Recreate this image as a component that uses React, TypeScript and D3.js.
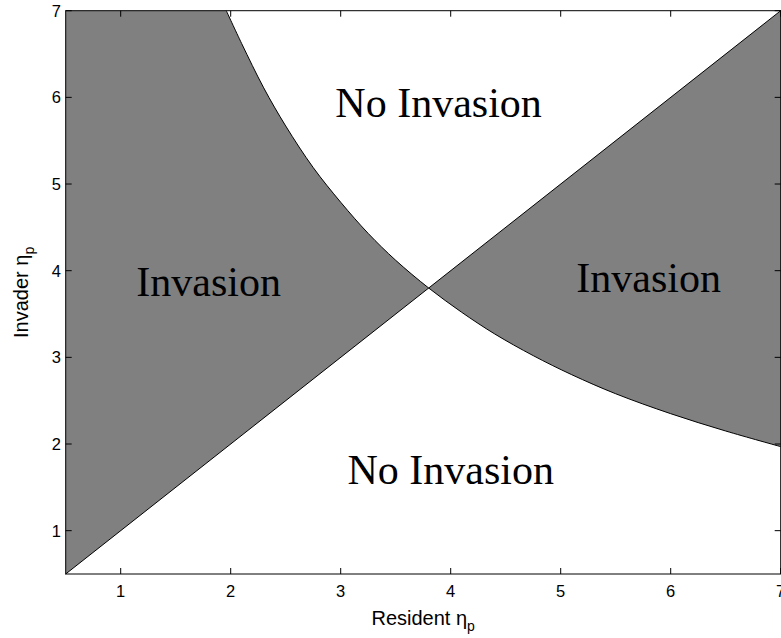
import React from "react";
import * as d3 from "d3";

// Axis ranges and tick values
const xDomain = [0.5, 7];
const yDomain = [0.5, 7];
const xTicks = [1, 2, 3, 4, 5, 6, 7];
const yTicks = [1, 2, 3, 4, 5, 6, 7];

// Invasion boundary (non-trivial branch), resident η_p vs invader η_p
const boundaryX = [1.96, 2.1, 2.3, 2.5, 2.75, 3.0, 3.25, 3.5, 3.8, 4.1, 4.4, 4.75, 5.1, 5.5, 6.0, 6.5, 7.0];
const boundaryY = [7.0, 6.62, 6.11, 5.67, 5.19, 4.79, 4.43, 4.12, 3.8, 3.52, 3.27, 3.02, 2.8, 2.58, 2.35, 2.15, 1.97];

// Crossing point of the boundary with the diagonal (invader = resident)
const crossing = 3.8;

// Region labels: [text, x, y] in data units (text baseline center)
const regionLabels: [string, number, number][] = [
  ["No Invasion", 3.89, 5.77],
  ["Invasion", 1.8, 3.71],
  ["Invasion", 5.8, 3.75],
  ["No Invasion", 4.0, 1.54],
];

const W = 781;
const H = 638;
const left = 65.7;
const right = 780.7;
const top = 10.7;
const bottom = 574;

export default function App() {
  const x = d3.scaleLinear().domain(xDomain).range([left, right]);
  const y = d3.scaleLinear().domain(yDomain).range([bottom, top]);

  const pts: [number, number][] = boundaryX.map((v, i) => [v, boundaryY[i]]);
  const upper = pts.filter((p) => p[0] <= crossing);
  const lower = pts.filter((p) => p[0] >= crossing);

  const line = d3
    .line<[number, number]>()
    .x((d) => x(d[0]))
    .y((d) => y(d[1]))
    .curve(d3.curveCatmullRom.alpha(0.5));

  // Left invasion region: y-axis side, top edge, boundary down to the crossing, diagonal back
  const leftD =
    `M${x(xDomain[0])},${y(yDomain[0])}L${x(xDomain[0])},${y(yDomain[1])}` +
    line(upper)!.replace(/^M/, "L") +
    `L${x(xDomain[0])},${y(yDomain[0])}Z`;

  // Right invasion region: diagonal up to the corner, right edge down, boundary back to the crossing
  const rightD =
    `M${x(crossing)},${y(crossing)}L${x(xDomain[1])},${y(yDomain[1])}` +
    `L${x(xDomain[1])},${y(lower[lower.length - 1][1])}` +
    line([...lower].reverse())!.replace(/^M/, "L") +
    "Z";

  const diag = d3.line<number>().x((d) => x(d)).y((d) => y(d))([xDomain[0], xDomain[1]])!;

  const tickLen = 6;
  const sans = "Liberation Sans, Arial, Helvetica, sans-serif";
  const serif = "Liberation Serif, Times New Roman, serif";

  return (
    <svg
      width={W}
      height={H}
      style={{ position: "absolute", left: 0, top: 0, background: "#fff" }}
    >
      <rect x={0} y={0} width={W} height={H} fill="#fff" />
      <path d={leftD} fill="#808080" stroke="none" />
      <path d={rightD} fill="#808080" stroke="none" />
      <path d={line(pts)!} fill="none" stroke="#000" strokeWidth={1} />
      <path d={diag} fill="none" stroke="#000" strokeWidth={1} />

      {regionLabels.map(([t, lx, ly], i) => (
        <text
          key={i}
          x={x(lx)}
          y={y(ly)}
          textAnchor="middle"
          fontFamily={serif}
          fontSize={42}
          fill="#000"
        >
          {t}
        </text>
      ))}

      {/* frame */}
      <rect
        x={left}
        y={top}
        width={right - left}
        height={bottom - top}
        fill="none"
        stroke="#000"
        strokeWidth={1}
      />

      {/* x ticks, inward on bottom and top */}
      {xTicks.map((t) => (
        <g key={"x" + t}>
          <line x1={x(t)} x2={x(t)} y1={bottom} y2={bottom - tickLen} stroke="#000" />
          <line x1={x(t)} x2={x(t)} y1={top} y2={top + tickLen} stroke="#000" />
          <text
            x={x(t)}
            y={597}
            textAnchor="middle"
            fontFamily={sans}
            fontSize={16.5}
            fill="#000"
          >
            {t}
          </text>
        </g>
      ))}

      {/* y ticks, inward on left and right */}
      {yTicks.map((t) => (
        <g key={"y" + t}>
          <line x1={left} x2={left + tickLen} y1={y(t)} y2={y(t)} stroke="#000" />
          <line x1={right} x2={right - tickLen} y1={y(t)} y2={y(t)} stroke="#000" />
          <text
            x={61}
            y={y(t)}
            dy="0.36em"
            textAnchor="end"
            fontFamily={sans}
            fontSize={16.5}
            fill="#000"
          >
            {t}
          </text>
        </g>
      ))}

      <text
        x={(left + right) / 2}
        y={625}
        textAnchor="middle"
        fontFamily={sans}
        fontSize={20}
        fill="#000"
      >
        Resident η
        <tspan fontSize={14} dy={6}>
          p
        </tspan>
      </text>

      <text
        transform={`translate(28,${(top + bottom) / 2}) rotate(-90)`}
        textAnchor="middle"
        fontFamily={sans}
        fontSize={20}
        fill="#000"
      >
        Invader η
        <tspan fontSize={14} dy={6}>
          p
        </tspan>
      </text>
    </svg>
  );
}
